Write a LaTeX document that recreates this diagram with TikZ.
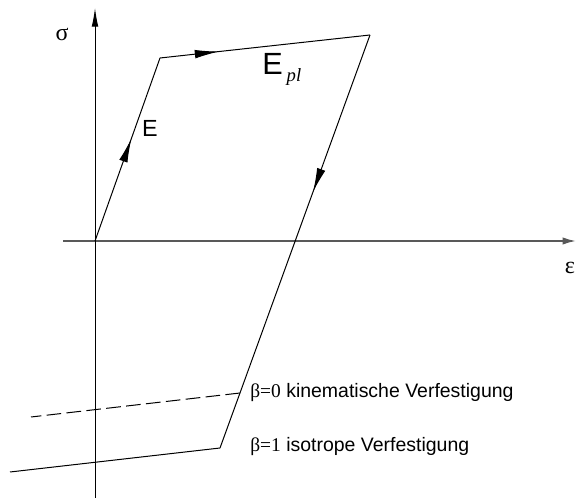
\documentclass[tikz,border=0pt]{standalone}
\usepackage{fontspec}
\setmainfont{Liberation Sans}
\newfontfamily\serifgr{Liberation Serif}
\usetikzlibrary{arrows.meta,decorations.markings}
\tikzset{
  curve/.style={line width=0.75pt, black},
  axisv/.style={line width=0.75pt, black, -{Latex[length=14pt,width=5pt]}},
  axish/.style={line width=1.3pt, black!65, -{Latex[length=10pt,width=5.5pt]}},
  midarrow/.style={postaction={decorate,decoration={markings,
     mark=at position #1 with {\arrow{Latex[length=18pt,width=6.5pt]}}}}},
  lbl/.style={inner sep=0pt, font=\fontsize{14.6pt}{16pt}\selectfont},
}
\begin{document}
\begin{tikzpicture}[x=0.75pt,y=-0.75pt]
\useasboundingbox (0,0) rectangle (576,502);
% points
\coordinate (O) at (95,241);
\coordinate (A) at (160,58);
\coordinate (B) at (370,35);
\coordinate (C) at (220,448);
\coordinate (D) at (10,472);
\coordinate (K1) at (31,417);
\coordinate (K2) at (240,393);
\coordinate (Vb) at (95,498);
\coordinate (Vt) at (95,8);
\coordinate (Hl) at (63,241);
\coordinate (Hr) at (576,241);
% axes
\draw[axish] (Hl) -- (Hr);
\draw[axisv] (Vb) -- (Vt);
% path
\draw[curve, midarrow=0.56] (O) -- (A);
\draw[curve, midarrow=0.28] (A) -- (B);
\draw[curve, midarrow=0.38] (B) -- (C);
\draw[curve] (C) -- (D);
\draw[curve, dash pattern=on 11pt off 4pt] (K2) -- (K1);
% labels
\node[lbl, font=\serifgr\fontsize{18pt}{20pt}\selectfont] (sig) at (62,34) {σ};
\node[lbl, font=\serifgr\fontsize{18pt}{20pt}\selectfont] (eps) at (570,268) {ε};
\node[lbl, font=\fontsize{17.5pt}{20pt}\selectfont] (E) at (150,128) {E};
\node[lbl, anchor=base west, font=\fontsize{23pt}{26pt}\selectfont] (Epl) at (262,75) {E\kern3pt\raisebox{-5pt}{\serifgr\itshape\fontsize{14pt}{16pt}\selectfont pl}};
\node[lbl, anchor=base west] (k) at (250,398) {{\serifgr β=0} kinematische Verfestigung};
\node[lbl, anchor=base west] (i) at (250,452) {{\serifgr β=1} isotrope Verfestigung};
\end{tikzpicture}
\end{document}
